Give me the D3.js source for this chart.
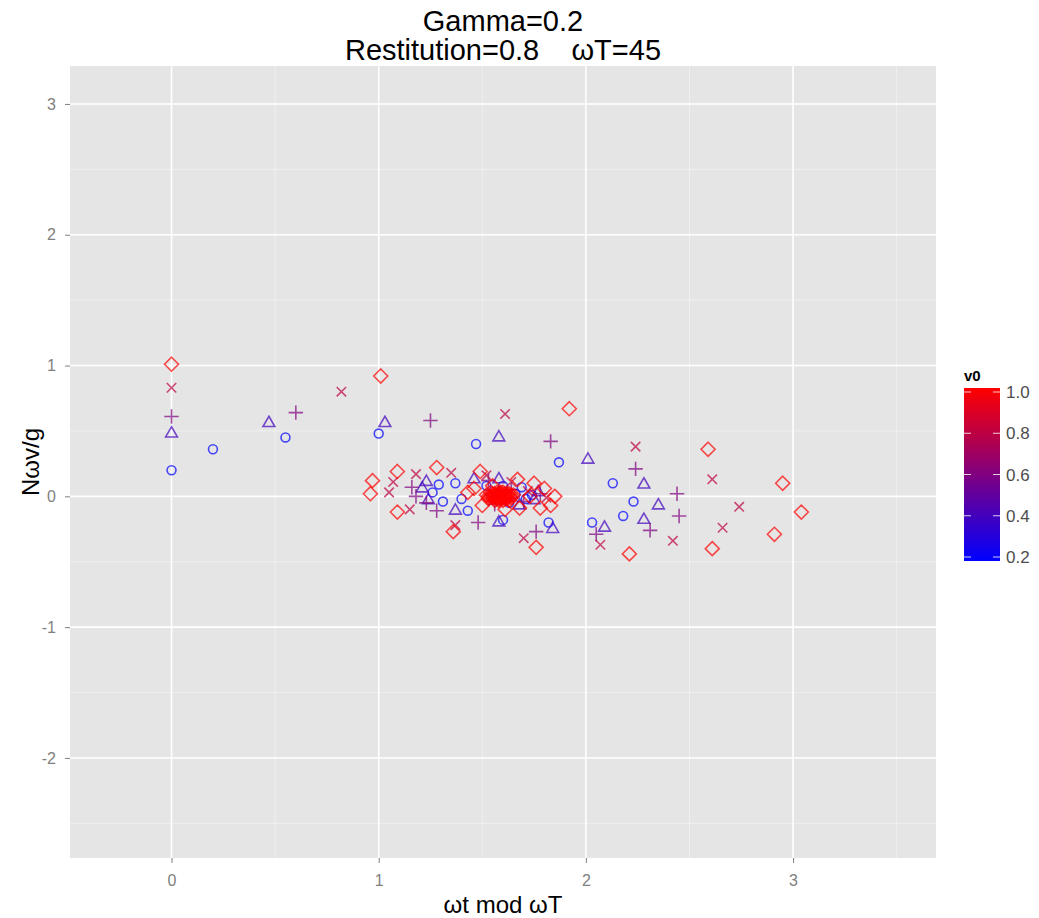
<!DOCTYPE html>
<html>
<head>
<meta charset="utf-8">
<script src="https://cdn.jsdelivr.net/npm/d3@7"></script>
<style>
  html, body { margin: 0; padding: 0; background: #ffffff; }
  svg { display: block; font-family: "Liberation Sans", Arial, sans-serif; }
</style>
</head>
<body>
<svg id="chart" width="1039" height="918"></svg>
<script>
// Phase (ωt mod ωT) and scaled velocity (Nωv/g) of impacts, one array per initial velocity v0
const v0Levels = [0.2, 0.4, 0.6, 0.8, 1.0];

const pointsV02 = [
  [0.00, 0.20], [0.20, 0.36], [0.55, 0.45], [1.00, 0.48], [1.47, 0.40], [1.87, 0.26],
  [2.13, 0.10], [2.23, -0.04], [2.18, -0.15], [2.03, -0.20], [1.29, 0.09], [1.37, 0.10],
  [1.26, 0.03], [1.31, -0.04], [1.43, -0.11], [1.60, -0.18], [1.82, -0.20], [1.52, 0.08],
  [1.60, 0.08], [1.66, 0.02], [1.71, -0.02], [1.69, 0.07], [1.40, -0.02], [1.74, 0.01],
  [1.63, -0.05]
];
const pointsV04 = [
  [0.00, 0.48], [0.47, 0.56], [1.03, 0.56], [1.58, 0.45], [2.01, 0.28], [2.28, 0.09],
  [2.35, -0.07], [2.28, -0.18], [2.09, -0.24], [1.21, 0.06], [1.24, -0.03], [1.37, -0.11],
  [1.23, 0.11], [1.58, -0.20], [1.84, -0.25], [1.46, 0.13], [1.58, 0.13], [1.75, -0.03],
  [1.68, -0.07], [1.77, 0.03]
];
const pointsV06 = [
  [0.00, 0.61], [0.60, 0.64], [1.25, 0.58], [1.83, 0.42], [2.24, 0.21], [2.44, 0.02],
  [2.45, -0.15], [2.31, -0.26], [2.05, -0.29], [1.16, 0.07], [1.18, 0.00], [1.28, -0.11],
  [1.23, -0.05], [1.48, -0.20], [1.76, -0.27], [1.53, 0.12], [1.70, -0.04], [1.78, 0.02],
  [1.64, 0.05], [1.56, -0.06]
];
const pointsV08 = [
  [0.00, 0.83], [0.82, 0.80], [1.61, 0.63], [2.24, 0.38], [2.61, 0.13], [2.74, -0.08],
  [2.66, -0.24], [2.42, -0.34], [2.07, -0.37], [1.07, 0.11], [1.05, 0.03], [1.18, 0.17],
  [1.35, 0.18], [1.15, -0.10], [1.37, -0.22], [1.70, -0.32], [1.52, 0.16], [1.64, 0.11],
  [1.81, -0.01], [1.72, 0.04]
];
const pointsV10 = [
  [0.00, 1.01], [1.01, 0.92], [1.92, 0.67], [2.59, 0.36], [2.95, 0.10], [3.04, -0.12],
  [2.91, -0.29], [2.61, -0.40], [2.21, -0.44], [0.97, 0.12], [0.96, 0.02], [1.09, 0.19],
  [1.28, 0.22], [1.09, -0.12], [1.36, -0.27], [1.76, -0.39], [1.49, 0.19], [1.67, 0.13],
  [1.43, 0.03], [1.80, 0.06], [1.85, 0.00], [1.83, -0.07], [1.78, -0.09], [1.68, -0.09],
  [1.50, -0.07], [1.46, 0.06], [1.61, -0.10], [1.73, 0.00], [1.55, 0.08], [1.75, 0.10],
  // dense attractor near ωt = π/2
  [1.52, 0.01], [1.53, -0.02], [1.54, 0.03], [1.55, -0.01], [1.55, 0.02], [1.56, -0.03],
  [1.57, 0.00], [1.57, 0.03], [1.58, -0.02], [1.59, 0.01], [1.60, -0.03], [1.60, 0.03],
  [1.61, 0.00], [1.62, -0.02], [1.62, 0.02], [1.63, 0.00], [1.64, -0.01], [1.56, 0.01],
  [1.58, 0.02], [1.59, -0.01], [1.61, 0.02], [1.63, -0.03], [1.54, 0.00], [1.65, 0.01],
  [1.53, 0.00], [1.55, 0.00], [1.56, -0.01], [1.57, -0.02], [1.58, 0.00], [1.59, 0.02],
  [1.60, 0.00], [1.60, -0.01], [1.61, -0.02], [1.62, 0.00], [1.63, 0.02], [1.64, 0.01],
  [1.57, 0.01], [1.58, -0.03], [1.59, 0.03], [1.56, 0.02]
];

const xTicks = [0, 1, 2, 3];
const xMinor = [0.5, 1.5, 2.5, 3.5];
const yTicks = [-2, -1, 0, 1, 2, 3];
const yMinor = [-2.5, -1.5, -0.5, 0.5, 1.5, 2.5];
const legendTicks = [0.2, 0.4, 0.6, 0.8, 1.0];

const titleLines = ["Gamma=0.2", "Restitution=0.8    ωT=45"];
const xTitle = "ωt mod ωT";
const yTitle = "Nωv/g";
const legendTitle = "v0";

const svg = d3.select("#chart");

const panel = { left: 70, right: 936, top: 66, bottom: 858 };
const x = d3.scaleLinear().domain([-0.49, 3.69]).range([panel.left, panel.right]);
const y = d3.scaleLinear().domain([-2.765, 3.29]).range([panel.bottom, panel.top]);
const colour = d3.scaleLinear().domain([0.2, 1.0]).range(["#0000ff", "#ff0000"]).interpolate(d3.interpolateRgb);

// panel background and grid
svg.append("rect")
  .attr("x", panel.left).attr("y", panel.top)
  .attr("width", panel.right - panel.left).attr("height", panel.bottom - panel.top)
  .attr("fill", "#e5e5e5");

const grid = svg.append("g");
grid.selectAll(".xmin").data(xMinor.filter(v => v >= x.domain()[0] && v <= x.domain()[1])).join("line")
  .attr("x1", d => x(d)).attr("x2", d => x(d)).attr("y1", panel.top).attr("y2", panel.bottom)
  .attr("stroke", "#f2f2f2").attr("stroke-width", 0.8);
grid.selectAll(".ymin").data(yMinor).join("line")
  .attr("y1", d => y(d)).attr("y2", d => y(d)).attr("x1", panel.left).attr("x2", panel.right)
  .attr("stroke", "#f2f2f2").attr("stroke-width", 0.8);
grid.selectAll(".xmaj").data(xTicks).join("line")
  .attr("x1", d => x(d)).attr("x2", d => x(d)).attr("y1", panel.top).attr("y2", panel.bottom)
  .attr("stroke", "#ffffff").attr("stroke-width", 1.6);
grid.selectAll(".ymaj").data(yTicks).join("line")
  .attr("y1", d => y(d)).attr("y2", d => y(d)).attr("x1", panel.left).attr("x2", panel.right)
  .attr("stroke", "#ffffff").attr("stroke-width", 1.6);

// axes
const xAxis = d3.axisBottom(x).tickValues(xTicks).tickSize(5).tickPadding(12).tickFormat(d => String(d));
const yAxis = d3.axisLeft(y).tickValues(yTicks).tickSize(5).tickPadding(9).tickFormat(d => String(d));

const gx = svg.append("g").attr("transform", `translate(0,${panel.bottom})`).call(xAxis);
const gy = svg.append("g").attr("transform", `translate(${panel.left},0)`).call(yAxis);
[gx, gy].forEach(g => {
  g.select(".domain").remove();
  g.selectAll(".tick line").attr("stroke", "#7f7f7f").attr("stroke-width", 1);
  g.selectAll(".tick text").attr("fill", "#7f7f7f").style("font-size", "16px")
    .style("font-family", "'Liberation Sans', Arial, sans-serif");
});

// symbols for each v0 level
const symbolTypes = [d3.symbolCircle, d3.symbolTriangle2, d3.symbolPlus, d3.symbolTimes, d3.symbolDiamond2];
const symbolSizes = [62, 100, 70, 60, 125];
const series = [pointsV02, pointsV04, pointsV06, pointsV08, pointsV10];

const marks = svg.append("g");
series.forEach((pts, i) => {
  const path = d3.symbol().type(symbolTypes[i]).size(symbolSizes[i])();
  marks.append("g").selectAll("path").data(pts).join("path")
    .attr("d", path)
    .attr("transform", d => `translate(${x(d[0])},${y(d[1])})`)
    .attr("fill", "none")
    .attr("stroke", colour(v0Levels[i]))
    .attr("stroke-opacity", 0.7)
    .attr("stroke-width", 1.6);
});

// titles
const title = svg.append("text")
  .attr("text-anchor", "middle")
  .style("font-size", "29px").attr("fill", "#000")
  .style("white-space", "pre");
titleLines.forEach((t, i) => {
  title.append("tspan").attr("x", (panel.left + panel.right) / 2).attr("y", 31 + i * 29).text(t);
});

svg.append("text")
  .attr("x", (panel.left + panel.right) / 2).attr("y", 913)
  .attr("text-anchor", "middle").style("font-size", "24px").attr("fill", "#000")
  .text(xTitle);

svg.append("text")
  .attr("transform", `translate(39,${(panel.top + panel.bottom) / 2}) rotate(-90)`)
  .attr("text-anchor", "middle").style("font-size", "24px").attr("fill", "#000")
  .text(yTitle);

// colour bar legend
const bar = { left: 964, width: 36, top: 388, bottom: 561 };
const legY = d3.scaleLinear().domain([0.2, 1.0]).range([557, 392]);

const defs = svg.append("defs");
const grad = defs.append("linearGradient").attr("id", "v0grad")
  .attr("x1", 0).attr("x2", 0).attr("y1", 1).attr("y2", 0);
d3.range(0, 1.0001, 0.1).forEach(t => {
  const v = 0.2 + t * 0.8;
  grad.append("stop").attr("offset", t).attr("stop-color", colour(v));
});

svg.append("rect")
  .attr("x", bar.left).attr("y", bar.top)
  .attr("width", bar.width).attr("height", bar.bottom - bar.top)
  .attr("fill", "url(#v0grad)");

const legTicks = svg.append("g");
legTicks.selectAll(".l").data(legendTicks).join("line")
  .attr("x1", bar.left).attr("x2", bar.left + 7)
  .attr("y1", d => legY(d)).attr("y2", d => legY(d))
  .attr("stroke", "#ffffff").attr("stroke-opacity", 0.8).attr("stroke-width", 1);
legTicks.selectAll(".r").data(legendTicks).join("line")
  .attr("x1", bar.left + bar.width - 7).attr("x2", bar.left + bar.width)
  .attr("y1", d => legY(d)).attr("y2", d => legY(d))
  .attr("stroke", "#ffffff").attr("stroke-opacity", 0.8).attr("stroke-width", 1);
legTicks.selectAll("text").data(legendTicks).join("text")
  .attr("x", bar.left + bar.width + 6).attr("y", d => legY(d))
  .attr("dy", "0.36em").style("font-size", "17px").attr("fill", "#4d4d4d")
  .text(d => d3.format(".1f")(d));

svg.append("text")
  .attr("x", bar.left).attr("y", 381)
  .style("font-size", "15px").style("font-weight", "bold").attr("fill", "#000")
  .text(legendTitle);
</script>
</body>
</html>
